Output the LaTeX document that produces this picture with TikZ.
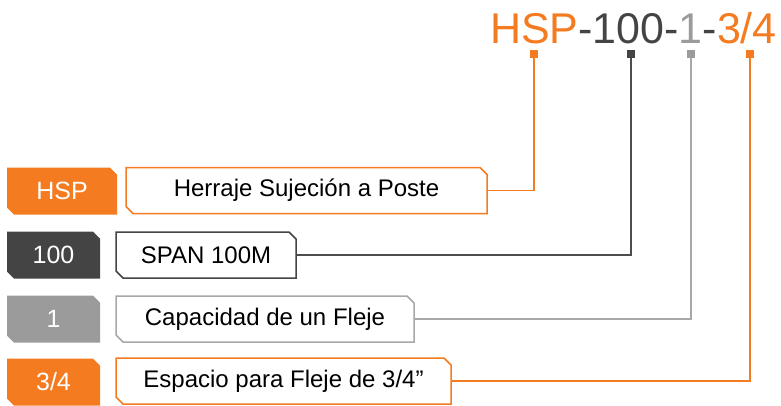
\documentclass[tikz,border=0pt]{standalone}
\usepackage{fontspec}
\setmainfont{Liberation Sans}
\usetikzlibrary{shapes.misc}
\definecolor{codeorange}{HTML}{F47B20}
\definecolor{codedark}{HTML}{444444}
\definecolor{codegray}{HTML}{9B9B9B}
\definecolor{linedark}{HTML}{4D4D4D}
\definecolor{linegray}{HTML}{A8A8A8}

\tikzset{
  chamf/.style={chamfered rectangle, chamfered rectangle corners={north east,south west},
    chamfered rectangle xsep=3.5pt, chamfered rectangle ysep=3.5pt, inner sep=0pt},
  tagbox/.style={chamf, fill=#1, text=white, minimum width=93pt, minimum height=47pt,
    font=\fontsize{25}{29}\selectfont},
  descbox/.style={chamf, draw=#1, line width=1.5pt, fill=white, minimum height=46pt,
    font=\fontsize{24}{28}\selectfont},
  codesq/.style={fill=#1, inner sep=0pt, minimum size=8pt},
  link/.style={draw=#1, line width=1.5pt}
}

\begin{document}
\begin{tikzpicture}[x=1pt,y=-1pt]
    \useasboundingbox (0,0) rectangle (781,405);
    % code on top
    \node[anchor=base east, inner sep=0pt] (code) at (777,43) {\fontsize{43}{50}\selectfont
        \textcolor{codeorange}{HSP}\textcolor{codedark}{-100-}\textcolor{codegray}{1}\textcolor{codedark}{-}\textcolor{codeorange}{3/4}};
    \node[codesq=codeorange] (sqHSP) at (534,54) {};
    \node[codesq=codedark] (sqSPAN) at (631,54) {};
    \node[codesq=codegray] (sqCAP) at (691,54) {};
    \node[codesq=codeorange] (sqESP) at (750,54) {};
    % tags
    \node[tagbox=codeorange, minimum width=110pt] (tagHSP) at (62,191) {HSP};
    \node[tagbox=codedark] (tagSPAN) at (53.5,255) {100};
    \node[tagbox=codegray] (tagCAP) at (53.5,319) {1};
    \node[tagbox=codeorange] (tagESP) at (53.5,382) {3/4};
    % descriptions
    \node[descbox=codeorange, minimum width=361pt] (descHSP) at (306.5,190.5) {Herraje Sujeción a Poste};
    \node[descbox=codedark, minimum width=180pt] (descSPAN) at (206,255) {SPAN 100M};
    \node[descbox=linegray, minimum width=298pt] (descCAP) at (265,319) {Capacidad de un Fleje};
    \node[descbox=codeorange, minimum width=335pt] (descESP) at (283.5,381) {Espacio para Fleje de 3/4”};
    % links
    \draw[link=codeorange] (descHSP.east) -| (sqHSP.south);
    \draw[link=linedark] (descSPAN.east) -| (sqSPAN.south);
    \draw[link=linegray] (descCAP.east) -| (sqCAP.south);
    \draw[link=codeorange] (descESP.east) -| (sqESP.south);
\end{tikzpicture}
\end{document}
